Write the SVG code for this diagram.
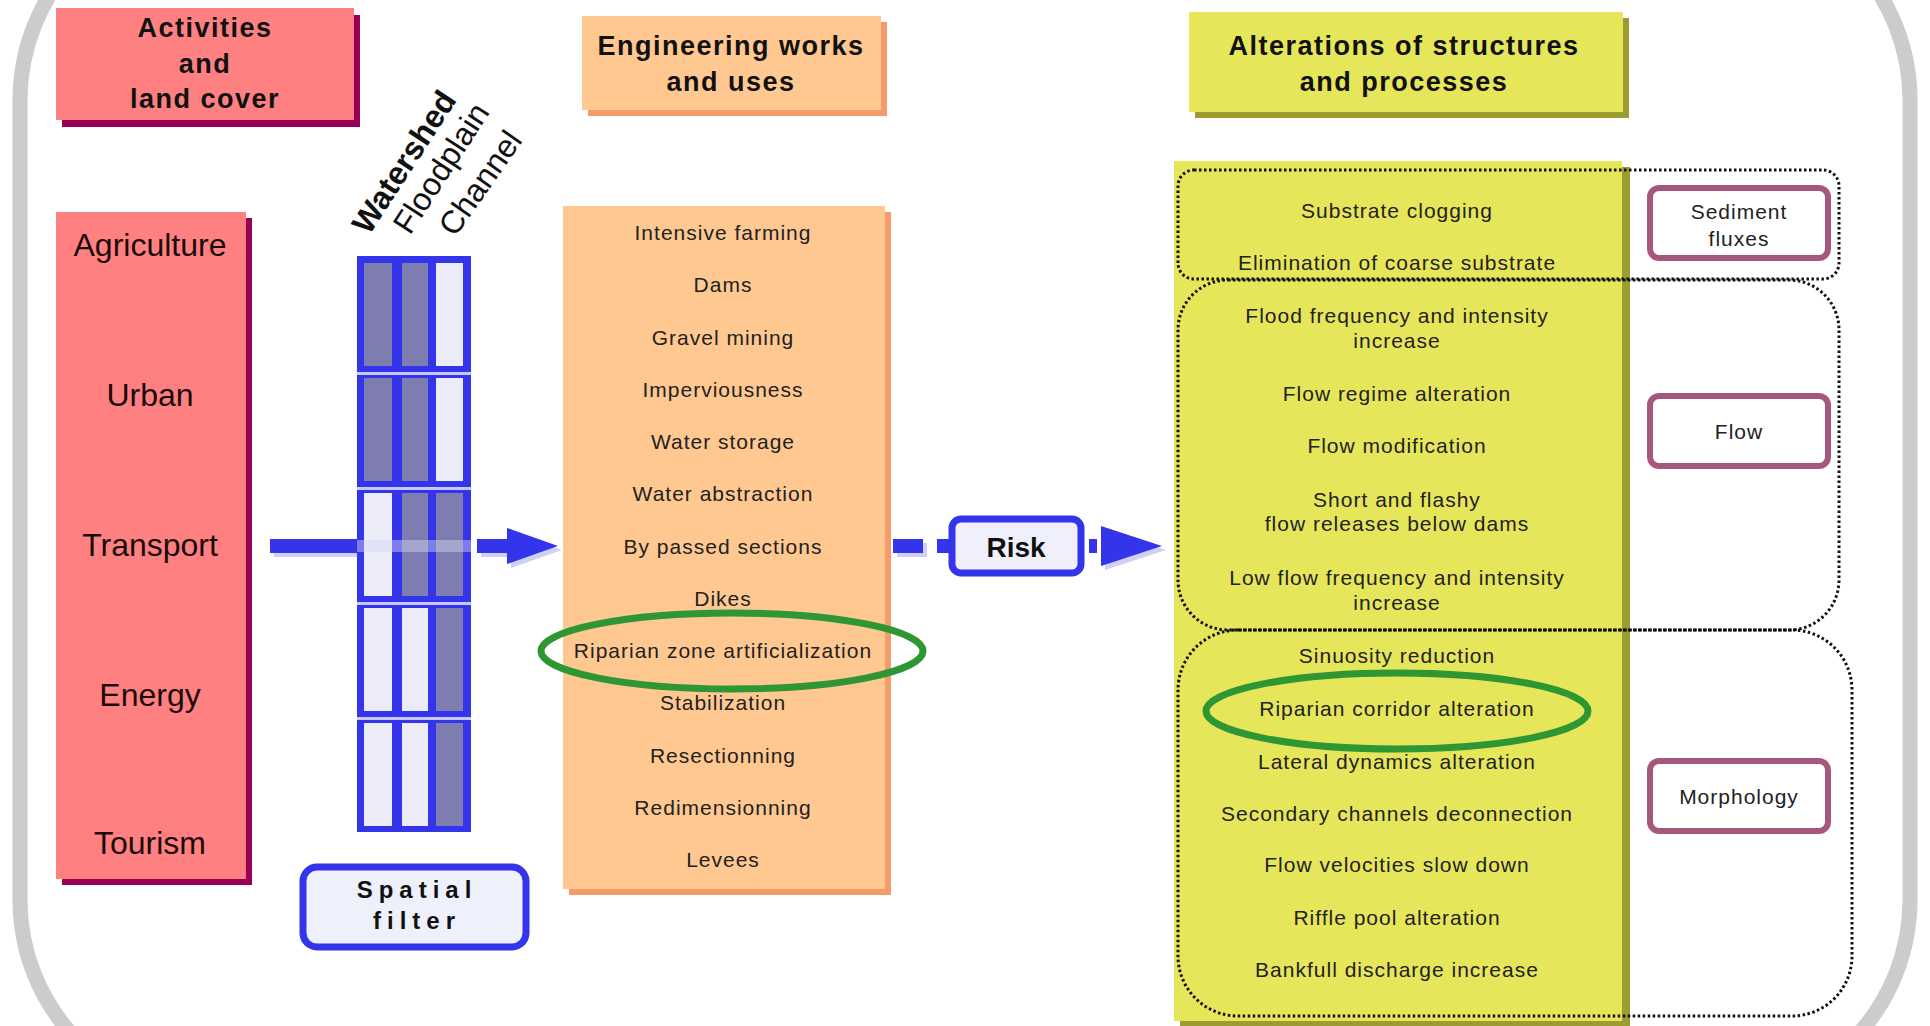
<svg xmlns="http://www.w3.org/2000/svg" width="1930" height="1026" viewBox="0 0 1930 1026">
<defs>
<style>
.hdr{font-family:"Liberation Sans",Arial,sans-serif;font-weight:bold;font-size:27px;letter-spacing:1.5px;fill:#111;text-anchor:middle}
.act{font-family:"Liberation Sans",Arial,sans-serif;font-size:32px;fill:#1a0a0a;text-anchor:middle}
.item{font-family:"Liberation Sans",Arial,sans-serif;font-size:21px;letter-spacing:1px;fill:#222;text-anchor:middle}
.rot{font-family:"Liberation Sans",Arial,sans-serif;font-size:32px;fill:#111}
.dot{fill:none;stroke:#111;stroke-width:3;stroke-dasharray:2.5 2.5}
.cat{fill:#fff;stroke:#a5587a;stroke-width:6}
.blue{fill:#3434ea}
.dark{fill:#7d7db0}
.light{fill:#ececf8}
.ell{fill:none;stroke:#2e9632;stroke-width:7}
</style>
</defs>
<rect width="1930" height="1026" fill="#ffffff"/>
<!-- outer frame -->
<rect x="20" y="-100" width="1890" height="1200" rx="200" ry="200" fill="none" stroke="#cccccc" stroke-width="15"/>

<!-- Activities header -->
<g id="activities-header">
<rect x="62" y="15" width="298" height="112" fill="#990055"/>
<rect x="56" y="8" width="298" height="112" fill="#ff8080"/>
<text class="hdr" x="205" y="37">Activities</text>
<text class="hdr" x="205" y="73">and</text>
<text class="hdr" x="205" y="108">land cover</text>
</g>

<!-- Engineering header -->
<g id="engineering-header">
<rect x="588" y="22" width="299" height="94" fill="#f59a6a"/>
<rect x="582" y="16" width="299" height="94" fill="#ffc890"/>
<text class="hdr" x="731" y="55">Engineering works</text>
<text class="hdr" x="731" y="91">and uses</text>
</g>

<!-- Alterations header -->
<g id="alterations-header">
<rect x="1195" y="18" width="434" height="100" fill="#9c9c30"/>
<rect x="1189" y="12" width="434" height="100" fill="#e6e65a"/>
<text class="hdr" x="1404" y="55">Alterations of structures</text>
<text class="hdr" x="1404" y="91">and processes</text>
</g>

<!-- Activities column -->
<g id="activities">
<rect x="62" y="218" width="190" height="667" fill="#990055"/>
<rect x="56" y="212" width="190" height="667" fill="#ff8080"/>
<text class="act" x="150" y="256">Agriculture</text>
<text class="act" x="150" y="406">Urban</text>
<text class="act" x="150" y="556">Transport</text>
<text class="act" x="150" y="706">Energy</text>
<text class="act" x="150" y="854">Tourism</text>
</g>

<!-- Connectors -->
<g id="connectors">
<rect x="274" y="543" width="86" height="14" fill="#d0d0f4"/>
<rect x="270" y="539" width="88" height="14" class="blue"/>
<rect x="481" y="543" width="30" height="14" fill="#d0d0f4"/>
<polygon points="511,532 562,550 511,568" fill="#d0d0f4"/>
<rect x="477" y="539" width="32" height="14" class="blue"/>
<polygon points="507,528 558,546 507,564" class="blue"/>
<rect x="897" y="543" width="30" height="14" fill="#d0d0f4"/>
<rect x="893" y="539" width="30" height="14" class="blue"/>
<rect x="937" y="539" width="14" height="14" class="blue"/>
<rect x="1089" y="539" width="8" height="14" class="blue"/>
<polygon points="1105,530 1166,550 1105,570" fill="#d0d0f4"/>
<polygon points="1101,526 1162,546 1101,566" class="blue"/>
</g>

<!-- Spatial filter grid -->
<g id="spatial-filter-grid">
<rect x="357" y="256" width="114" height="576" class="blue"/>
<rect x="364" y="263" width="28" height="103" class="dark"/>
<rect x="402" y="263" width="26" height="103" class="dark"/>
<rect x="436" y="263" width="27" height="103" class="light"/>
<rect x="364" y="378" width="28" height="103" class="dark"/>
<rect x="402" y="378" width="26" height="103" class="dark"/>
<rect x="436" y="378" width="27" height="103" class="light"/>
<rect x="364" y="493" width="28" height="103" class="light"/>
<rect x="402" y="493" width="26" height="103" class="dark"/>
<rect x="436" y="493" width="27" height="103" class="dark"/>
<rect x="364" y="608" width="28" height="103" class="light"/>
<rect x="402" y="608" width="26" height="103" class="light"/>
<rect x="436" y="608" width="27" height="103" class="dark"/>
<rect x="364" y="723" width="28" height="103" class="light"/>
<rect x="402" y="723" width="26" height="103" class="light"/>
<rect x="436" y="723" width="27" height="103" class="dark"/>
<g fill="#c8c8f8">
<rect x="357" y="372" width="114" height="3"/>
<rect x="357" y="487" width="114" height="3"/>
<rect x="357" y="602" width="114" height="3"/>
<rect x="357" y="717" width="114" height="3"/>
</g>
<rect x="357" y="540" width="114" height="12" fill="#d8d8f4" opacity="0.45"/>
</g>

<g id="scale-labels">
<text class="rot" font-weight="bold" transform="translate(369,236) rotate(-57)">Watershed</text>
<text class="rot" transform="translate(410,236) rotate(-57)">Floodplain</text>
<text class="rot" font-size="35" transform="translate(455,238) rotate(-55)">Channel</text>
</g>

<g id="spatial-filter">
<rect x="303" y="867" width="223" height="80" rx="14" fill="#eef0fc" stroke="#3434ea" stroke-width="7"/>
<text x="417" y="898" font-family="Liberation Sans, Arial, sans-serif" font-weight="bold" font-size="24" letter-spacing="6" text-anchor="middle" fill="#111">Spatial</text>
<text x="417" y="929" font-family="Liberation Sans, Arial, sans-serif" font-weight="bold" font-size="24" letter-spacing="6" text-anchor="middle" fill="#111">filter</text>
</g>

<!-- Engineering works list -->
<g id="engineering-works">
<rect x="569" y="212" width="322" height="683" fill="#f59a6a"/>
<rect x="563" y="206" width="322" height="683" fill="#ffc890"/>
<text class="item" x="723" y="240">Intensive farming</text>
<text class="item" x="723" y="292">Dams</text>
<text class="item" x="723" y="345">Gravel mining</text>
<text class="item" x="723" y="397">Imperviousness</text>
<text class="item" x="723" y="449">Water storage</text>
<text class="item" x="723" y="501">Water abstraction</text>
<text class="item" x="723" y="554">By passed sections</text>
<text class="item" x="723" y="606">Dikes</text>
<text class="item" x="723" y="658">Riparian zone artificialization</text>
<text class="item" x="723" y="710">Stabilization</text>
<text class="item" x="723" y="763">Resectionning</text>
<text class="item" x="723" y="815">Redimensionning</text>
<text class="item" x="723" y="867">Levees</text>
<ellipse class="ell" cx="732" cy="651" rx="191" ry="38"/>
</g>

<g id="risk">
<rect x="952" y="519" width="129" height="54" rx="9" fill="#f0f0fc" stroke="#3434ea" stroke-width="7"/>
<text x="1016" y="557" font-family="Liberation Sans, Arial, sans-serif" font-weight="bold" font-size="28" text-anchor="middle" fill="#111">Risk</text>
</g>

<!-- Alterations list -->
<g id="alterations">
<rect x="1180" y="167" width="450" height="865" fill="#9c9c30"/>
<rect x="1174" y="161" width="448" height="860" fill="#e6e65a"/>
<text class="item" x="1397" y="218">Substrate clogging</text>
<text class="item" x="1397" y="270">Elimination of coarse substrate</text>
<text class="item" x="1397" y="323">Flood frequency and intensity</text>
<text class="item" x="1397" y="348">increase</text>
<text class="item" x="1397" y="401">Flow regime alteration</text>
<text class="item" x="1397" y="453">Flow modification</text>
<text class="item" x="1397" y="507">Short and flashy</text>
<text class="item" x="1397" y="531">flow releases below dams</text>
<text class="item" x="1397" y="585">Low flow frequency and intensity</text>
<text class="item" x="1397" y="610">increase</text>
<text class="item" x="1397" y="663">Sinuosity reduction</text>
<text class="item" x="1397" y="716">Riparian corridor alteration</text>
<text class="item" x="1397" y="769">Lateral dynamics alteration</text>
<text class="item" x="1397" y="821">Secondary channels deconnection</text>
<text class="item" x="1397" y="872">Flow velocities slow down</text>
<text class="item" x="1397" y="925">Riffle pool alteration</text>
<text class="item" x="1397" y="977">Bankfull discharge increase</text>
<ellipse class="ell" cx="1397" cy="711" rx="191" ry="38"/>
</g>

<g id="group-sediment">
<rect class="dot" x="1178" y="170" width="661" height="109" rx="16"/>
<rect class="cat" x="1650" y="188" width="178" height="70" rx="9"/>
<text class="item" x="1739" y="219">Sediment</text>
<text class="item" x="1739" y="246">fluxes</text>
</g>
<g id="group-flow">
<rect class="dot" x="1178" y="280" width="661" height="350" rx="50"/>
<rect class="cat" x="1650" y="396" width="178" height="70" rx="9"/>
<text class="item" x="1739" y="439">Flow</text>
</g>
<g id="group-morphology">
<rect class="dot" x="1178" y="630" width="674" height="386" rx="60"/>
<rect class="cat" x="1650" y="761" width="178" height="70" rx="9"/>
<text class="item" x="1739" y="804">Morphology</text>
</g>
</svg>
